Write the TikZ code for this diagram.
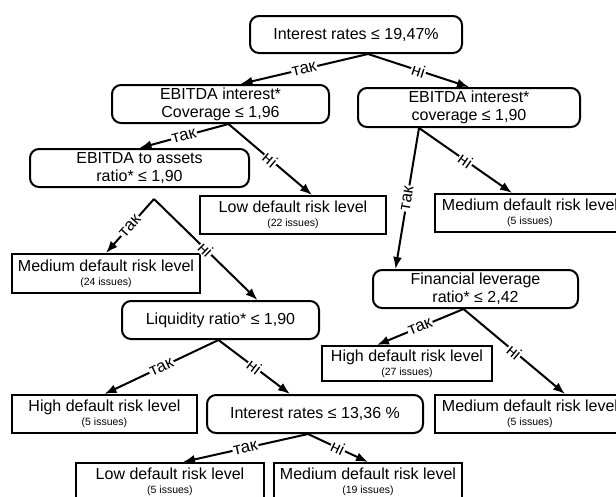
\documentclass[tikz,border=0pt]{standalone}
\usepackage{fontspec}
\setmainfont{Liberation Sans}
\usetikzlibrary{arrows.meta,calc}
\newcommand{\issues}[1]{{\fontsize{10.5}{12}\selectfont(#1 issues)}}
\newcommand{\leaftext}[2]{#1\\[-4pt]\issues{#2}}

\begin{document}
\begin{tikzpicture}[x=1pt,y=-1pt,
  base/.style={draw,line width=2pt,align=center,inner sep=0pt,font=\fontsize{16}{18}\selectfont},
  test/.style={base,rounded corners=9pt},
  leaf/.style={base},
  edge/.style={line width=2pt,-{Latex[length=12pt,width=9pt]}},
  lbl/.style={midway,sloped,fill=white,inner sep=1pt,font=\fontsize{17}{17}\selectfont}]
  \useasboundingbox (0,0) rectangle (616,496);
  % decision nodes
  \node[test,minimum width=212pt,minimum height=37pt] (root) at (356,34.5) {Interest rates ≤ 19,47\%};
  \node[test,minimum width=217pt,minimum height=38pt] (cov1) at (220.5,104) {EBITDA interest*\\Coverage ≤ 1,96};
  \node[test,minimum width=222pt,minimum height=39pt] (cov2) at (469,107.5) {EBITDA interest*\\coverage ≤ 1,90};
  \node[test,minimum width=219pt,minimum height=38pt] (assets) at (139.5,168) {EBITDA to assets\\ratio* ≤ 1,90};
  \node[test,minimum width=197pt,minimum height=38pt] (liq) at (220.5,320) {Liquidity ratio* ≤ 1,90};
  \node[test,minimum width=205pt,minimum height=38pt] (lev) at (475.5,289) {Financial leverage\\ratio* ≤ 2,42};
  \node[test,minimum width=216pt,minimum height=38pt] (rate2) at (315,414) {Interest rates ≤ 13,36 \%};
  % leaves
  \node[leaf,minimum width=186pt,minimum height=38pt] (low22) at (293,215) {\leaftext{Low default risk level}{22}};
  \node[leaf,minimum width=190pt,minimum height=38pt] (med5a) at (530,213) {\leaftext{Medium default risk level}{5}};
  \node[leaf,minimum width=188pt,minimum height=39pt] (med24) at (106,273.5) {\leaftext{Medium default risk level}{24}};
  \node[leaf,minimum width=170pt,minimum height=35pt] (high27) at (407,363.5) {\leaftext{High default risk level}{27}};
  \node[leaf,minimum width=185pt,minimum height=38pt] (high5) at (104.5,414) {\leaftext{High default risk level}{5}};
  \node[leaf,minimum width=190pt,minimum height=38pt] (med5b) at (530,414) {\leaftext{Medium default risk level}{5}};
  \node[leaf,minimum width=188pt,minimum height=38pt] (low5) at (170,482) {\leaftext{Low default risk level}{5}};
  \node[leaf,minimum width=188pt,minimum height=38pt] (med19) at (368,482) {\leaftext{Medium default risk level}{19}};
  \coordinate (fork) at ($(assets.south)+(14.5,11)$);
  % branches
  \draw[edge] ([xshift=12]root.south) -- node[lbl]{так} ([xshift=20]cov1.north);
  \draw[edge] ([xshift=12]root.south) -- node[lbl]{ні} (cov2.north);
  \draw[edge] ([xshift=8]cov1.south) -- node[lbl]{так} (assets.north);
  \draw[edge] ([xshift=8]cov1.south) -- node[lbl]{ні} ([xshift=19]low22.north);
  \draw[edge] ([xshift=-50]cov2.south) -- node[lbl]{так} ([xshift=-80]lev.north);
  \draw[edge] ([xshift=-50]cov2.south) -- node[lbl]{ні} ([xshift=-18]med5a.north);
  \draw[edge] (fork) -- node[lbl]{так} (med24.north);
  \draw[edge] (fork) -- node[lbl]{ні} ([xshift=37]liq.north);
  \draw[edge] ([xshift=-2]liq.south) -- node[lbl]{так} (high5.north);
  \draw[edge] ([xshift=-2]liq.south) -- node[lbl]{ні} ([xshift=-25]rate2.north);
  \draw[edge] ([xshift=-12]lev.south) -- node[lbl]{так} ([xshift=-30]high27.north);
  \draw[edge] ([xshift=-12]lev.south) -- node[lbl]{ні} ([xshift=35]med5b.north);
  \draw[edge] ([xshift=-7]rate2.south) -- node[lbl]{так} ([xshift=13]low5.north);
  \draw[edge] ([xshift=-7]rate2.south) -- node[lbl]{ні} (med19.north);
\end{tikzpicture}
\end{document}
